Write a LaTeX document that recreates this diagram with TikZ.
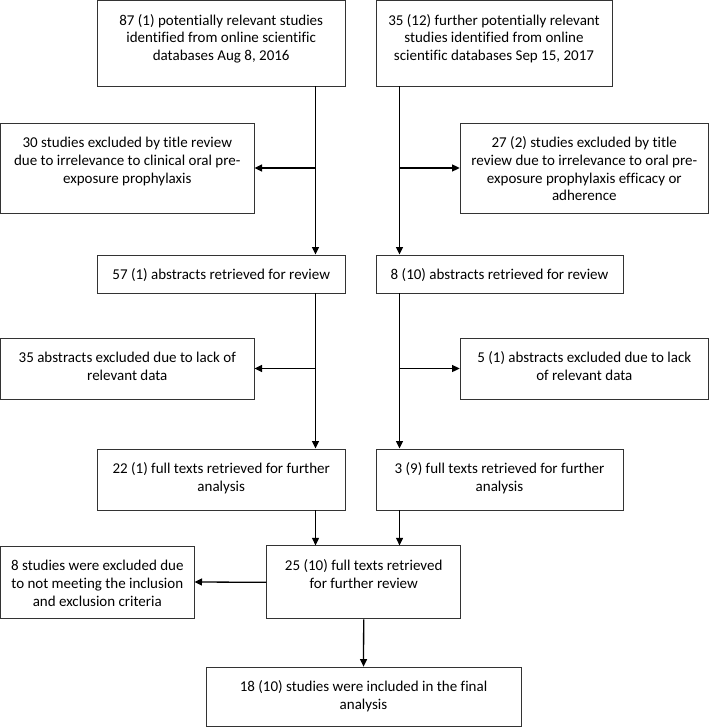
\documentclass[tikz,border=0pt]{standalone}
\usepackage{fontspec}
\setmainfont{Carlito}[Ligatures=NoCommon]
\usepackage{tikz}
\usetikzlibrary{arrows.meta}
\newcommand{\flowtext}[3]{\parbox[c][#2][t]{#1}{\centering\rule{0pt}{24.5pt}#3}}

\begin{document}
\begin{tikzpicture}[x=1pt,y=-1pt,
  box/.style={draw=black!80,line width=0.9pt,inner sep=0pt,font=\fontsize{15}{17.8}\selectfont},
  flow/.style={-{Triangle[length=7.5pt,width=7pt]},line width=1.3pt}]
  \useasboundingbox (0,0) rectangle (709,727);
  \coordinate (colL) at (315.5,0);
  \coordinate (colR) at (399.5,0);

  \node[box] (srcA) at (221.2,43.3) {\flowtext{248.5pt}{85.5pt}{87 (1) potentially relevant studies\\identified from online scientific\\databases Aug 8, 2016}};
  \node[box] (srcB) at (494,43.3) {\flowtext{236pt}{85.5pt}{35 (12) further potentially relevant\\studies identified from online\\scientific databases Sep 15, 2017}};
  \node[box] (exTitleA) at (127.3,168) {\flowtext{253.5pt}{90pt}{30 studies excluded by title review\\due to irrelevance to clinical oral pre-\\exposure prophylaxis}};
  \node[box] (exTitleB) at (584.3,168) {\flowtext{248.5pt}{90pt}{27 (2) studies excluded by title\\review due to irrelevance to oral pre-\\exposure prophylaxis efficacy or\\adherence}};
  \node[box] (absA) at (221.2,274) {\flowtext{248.5pt}{38pt}{57 (1) abstracts retrieved for review}};
  \node[box] (absB) at (499.5,274) {\flowtext{247pt}{38pt}{8 (10) abstracts retrieved for review}};
  \node[box] (exAbsA) at (127.3,368.5) {\flowtext{253.5pt}{61pt}{35 abstracts excluded due to lack of\\relevant data}};
  \node[box] (exAbsB) at (584.3,368.5) {\flowtext{248.5pt}{61pt}{5 (1) abstracts excluded due to lack\\of relevant data}};
  \node[box] (fullA) at (221.2,479.5) {\flowtext{248.5pt}{61pt}{22 (1) full texts retrieved for further\\analysis}};
  \node[box] (fullB) at (499.5,479.5) {\flowtext{247pt}{61pt}{3 (9) full texts retrieved for further\\analysis}};
  \node[box] (exFull) at (97.3,582) {\flowtext{193.5pt}{72pt}{8 studies were excluded due\\to not meeting the inclusion\\and exclusion criteria}};
  \node[box] (review) at (363.7,582.3) {\flowtext{194pt}{73pt}{25 (10) full texts retrieved\\for further review}};
  \node[box] (final) at (363.5,696.8) {\flowtext{315pt}{59.5pt}{18 (10) studies were included in the final\\analysis}};

  \draw[flow] (srcA.south -| colL) -- (absA.north -| colL);
  \draw[flow] (srcB.south -| colR) -- (absB.north -| colR);
  \draw[flow] (colL |- exTitleA.east) -- (exTitleA.east);
  \draw[flow] (colR |- exTitleB.west) -- (exTitleB.west);
  \draw[flow] (absA.south -| colL) -- (fullA.north -| colL);
  \draw[flow] (absB.south -| colR) -- (fullB.north -| colR);
  \draw[flow] (colL |- exAbsA.east) -- (exAbsA.east);
  \draw[flow] (colR |- exAbsB.west) -- (exAbsB.west);
  \draw[flow] (fullA.south -| colL) -- (review.north -| colL);
  \draw[flow] (fullB.south -| colR) -- (review.north -| colR);
  \draw[flow] (review.west) -- (exFull.east);
  \draw[flow] (review.south) -- (final.north);
\end{tikzpicture}
\end{document}
